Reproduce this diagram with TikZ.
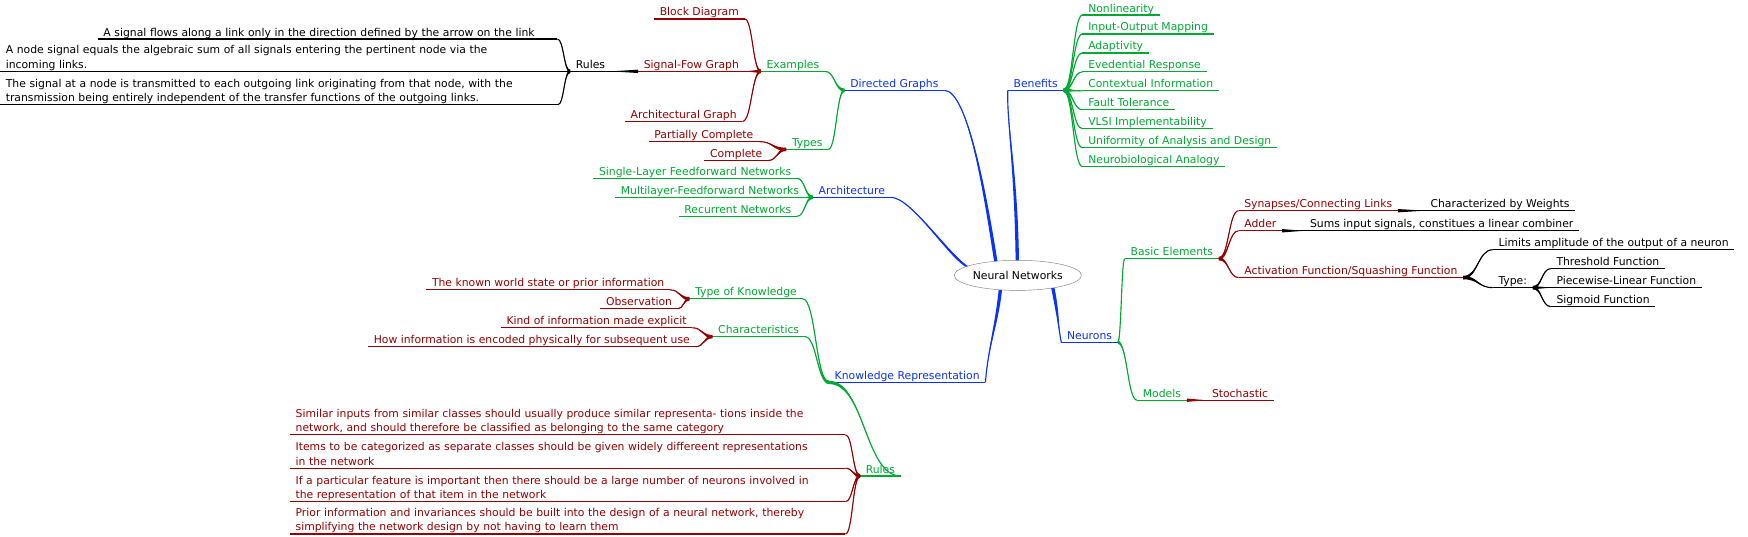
\documentclass[tikz,border=0pt]{standalone}
\usepackage{fontspec}
\setmainfont{DejaVu Sans}
\usepackage{xcolor}
\usetikzlibrary{shapes.geometric, calc}

\definecolor{bl}{RGB}{10,50,255}
\definecolor{gn}{RGB}{0,170,50}
\definecolor{rd}{RGB}{150,0,0}
\definecolor{bk}{RGB}{0,0,0}

\newcommand\mapfont{\fontsize{9.7}{13}\selectfont}
% tapered link: colour, parent point, child point
\newcommand\twig[3]{%
  \coordinate (twm) at ($(#2)!.5!(#3)$);
  \draw[#1, line width=1pt] (#2) .. controls (twm |- #2) and (twm |- #3) .. (#3);
  \fill[#1] ($(#2)+(0,1.5)$) .. controls ($(twm |- #2)+(0,1.5)$) and (twm |- #3) .. (#3)
    .. controls (twm |- #3) and ($(twm |- #2)+(0,-1.5)$) .. ($(#2)+(0,-1.5)$) -- cycle;}
% tapered link from the centre: root point, two control offsets, child point
\newcommand\stem[4]{%
  \draw[bl, line width=1pt] (#1) .. controls +(#2) and +(#3) .. (#4);
  \fill[bl] ($(#1)+(-1.5,0)$) .. controls +(#2) and +(#3) .. (#4)
    .. controls +(#3) and +(#2) .. ($(#1)+(1.5,0)$) -- cycle;}

\tikzset{
  topic/.style={font=\mapfont, text=#1, inner xsep=5pt, inner ysep=2.5pt, text depth=0pt,
    append after command={(\tikzlastnode.south west) edge[draw=#1, line width=1pt] (\tikzlastnode.south east)}},
  rnode/.style={topic=#1, anchor=south west},
  lnode/.style={topic=#1, anchor=south east},
  para/.style={text width=#1, align=left, text depth={}, inner ysep=0pt,
    execute at end node={\rule[-2.5pt]{0pt}{2.5pt}}},
  hub/.style={ellipse, draw=gray, fill=white, minimum width=100pt, minimum height=27pt, inner sep=0pt, font=\mapfont},
}

\begin{document}
\begin{tikzpicture}[x=1pt, y=-1pt]
    \useasboundingbox (0,0) rectangle (1568,481);
    \node[hub] (root) at (913,247) {Neural Networks};

    % first level
    \node[lnode=bl] (dg) at (847,81) {Directed Graphs};
    \node[rnode=bl] (be) at (904,81) {Benefits};
    \node[lnode=bl] (ar) at (799,177) {Architecture};
    \node[lnode=bl] (kr) at (884,343) {Knowledge Representation};
    \node[rnode=bl] (ne) at (952,307) {Neurons};

    \stem{root.147}{-8,-50}{22,0}{dg.south east}
    \stem{root.92}{-1,-80}{-1,30}{be.south west}
    \stem{root.170}{-18,-12}{18,0}{ar.south east}
    \stem{root.220}{-3,30}{2,-30}{kr.south east}
    \stem{root.340}{5,25}{-3,-15}{ne.south west}

    % directed graphs
    \node[lnode=gn] (ex) at (740,64) {Examples};
    \node[lnode=gn] (ty) at (743,134) {Types};
    \twig{gn}{dg.south west}{ex.south east}
    \twig{gn}{dg.south west}{ty.south east}

    \node[lnode=rd] (bd) at (668,17) {Block Diagram};
    \node[lnode=rd] (sf) at (668,64) {Signal-Fow Graph};
    \node[lnode=rd] (ag) at (666,109) {Architectural Graph};
    \twig{rd}{ex.south west}{bd.south east}
    \twig{rd}{ex.south west}{sf.south east}
    \twig{rd}{ex.south west}{ag.south east}

    \node[lnode=bk] (rb) at (548,64) {Rules};
    \twig{bk}{sf.south west}{rb.south east}
    \node[lnode=bk, para=402pt] (q1) at (500,35) {A signal flows along a link only in the direction defined by the arrow on the link};
    \node[rnode=bk, para=498pt] (q2) at (0,64) {A node signal equals the algebraic sum of all signals entering the pertinent node via the\\ incoming links.};
    \node[rnode=bk, para=490pt] (q3) at (0,94) {The signal at a node is transmitted to each outgoing link originating from that node, with the\\ transmission being entirely independent of the transfer functions of the outgoing links.};
    \twig{bk}{rb.south west}{q1.south east}
    \twig{bk}{rb.south west}{q2.south east}
    \twig{bk}{rb.south west}{q3.south east}

    \node[lnode=rd] (pc) at (681,127) {Partially Complete};
    \node[lnode=rd] (co) at (689,144) {Complete};
    \twig{rd}{ty.south west}{pc.south east}
    \twig{rd}{ty.south west}{co.south east}

    % benefits
    \node[rnode=gn] (b1) at (971,13.5) {Nonlinearity};
    \node[rnode=gn] (b2) at (971,30.5) {Input-Output Mapping};
    \node[rnode=gn] (b3) at (971,47.5) {Adaptivity};
    \node[rnode=gn] (b4) at (971,64.5) {Evedential Response};
    \node[rnode=gn] (b5) at (971,81.5) {Contextual Information};
    \node[rnode=gn] (b6) at (971,98.5) {Fault Tolerance};
    \node[rnode=gn] (b7) at (971,115.5) {VLSI Implementability};
    \node[rnode=gn] (b8) at (971,132.5) {Uniformity of Analysis and Design};
    \node[rnode=gn] (b9) at (971,149.5) {Neurobiological Analogy};
    \twig{gn}{be.south east}{b1.south west}
    \twig{gn}{be.south east}{b2.south west}
    \twig{gn}{be.south east}{b3.south west}
    \twig{gn}{be.south east}{b4.south west}
    \twig{gn}{be.south east}{b5.south west}
    \twig{gn}{be.south east}{b6.south west}
    \twig{gn}{be.south east}{b7.south west}
    \twig{gn}{be.south east}{b8.south west}
    \twig{gn}{be.south east}{b9.south west}

    % architecture
    \node[lnode=gn] (a1) at (715,160) {Single-Layer Feedforward Networks};
    \node[lnode=gn] (a2) at (722,177) {Multilayer-Feedforward Networks};
    \node[lnode=gn] (a3) at (715,194) {Recurrent Networks};
    \twig{gn}{ar.south west}{a1.south east}
    \twig{gn}{ar.south west}{a2.south east}
    \twig{gn}{ar.south west}{a3.south east}

    % knowledge representation
    \node[lnode=gn] (tk) at (720,268) {Type of Knowledge};
    \node[lnode=gn] (ch) at (722,302) {Characteristics};
    \node[lnode=gn] (ru) at (808,427) {Rules};
    \twig{gn}{kr.south west}{tk.south east}
    \twig{gn}{kr.south west}{ch.south east}
    \twig{gn}{kr.south west}{ru.south east}

    \node[lnode=rd] (k1) at (601,260) {The known world state or prior information};
    \node[lnode=rd] (k2) at (608,277) {Observation};
    \twig{rd}{tk.south west}{k1.south east}
    \twig{rd}{tk.south west}{k2.south east}
    \node[lnode=rd] (c1) at (621,294) {Kind of information made explicit};
    \node[lnode=rd] (c2) at (624,311) {How information is encoded physically for subsequent use};
    \twig{rd}{ch.south west}{c1.south east}
    \twig{rd}{ch.south west}{c2.south east}

    \node[rnode=rd, para=488pt] (r1) at (260,390) {Similar inputs from similar classes should usually produce similar representa- tions inside the\\ network, and should therefore be classified as belonging to the same category};
    \node[rnode=rd, para=488pt] (r2) at (260,420) {Items to be categorized as separate classes should be given widely differeent representations\\ in the network};
    \node[rnode=rd, para=488pt] (r3) at (260,450) {If a particular feature is important then there should be a large number of neurons involved in\\ the representation of that item in the network};
    \node[rnode=rd, para=488pt] (r4) at (260,479) {Prior information and invariances should be built into the design of a neural network, thereby\\ simplifying the network design by not having to learn them};
    \twig{rd}{ru.south west}{r1.south east}
    \twig{rd}{ru.south west}{r2.south east}
    \twig{rd}{ru.south west}{r3.south east}
    \twig{rd}{ru.south west}{r4.south east}

    % neurons
    \node[rnode=gn] (bel) at (1009,232) {Basic Elements};
    \node[rnode=gn] (mo) at (1020,359) {Models};
    \twig{gn}{ne.south east}{bel.south west}
    \twig{gn}{ne.south east}{mo.south west}

    \node[rnode=rd] (st) at (1082,359) {Stochastic};
    \twig{rd}{mo.south east}{st.south west}

    \node[rnode=rd] (sy) at (1111,189) {Synapses/Connecting Links};
    \node[rnode=rd] (ad) at (1111,207) {Adder};
    \node[rnode=rd] (af) at (1111,249) {Activation Function/Squashing Function};
    \twig{rd}{bel.south east}{sy.south west}
    \twig{rd}{bel.south east}{ad.south west}
    \twig{rd}{bel.south east}{af.south west}

    \node[rnode=bk] (cw) at (1278,189) {Characterized by Weights};
    \twig{bk}{sy.south east}{cw.south west}
    \node[rnode=bk] (si) at (1170,207) {Sums input signals, constitues a linear combiner};
    \twig{bk}{ad.south east}{si.south west}

    \node[rnode=bk] (li) at (1339,224) {Limits amplitude of the output of a neuron};
    \node[rnode=bk] (tp) at (1339,258) {Type:};
    \twig{bk}{af.south east}{li.south west}
    \twig{bk}{af.south east}{tp.south west}

    \node[rnode=bk] (th) at (1391,241) {Threshold Function};
    \node[rnode=bk] (pw) at (1391,258) {Piecewise-Linear Function};
    \node[rnode=bk] (sg) at (1391,275) {Sigmoid Function};
    \twig{bk}{tp.south east}{th.south west}
    \twig{bk}{tp.south east}{pw.south west}
    \twig{bk}{tp.south east}{sg.south west}
\end{tikzpicture}
\end{document}
